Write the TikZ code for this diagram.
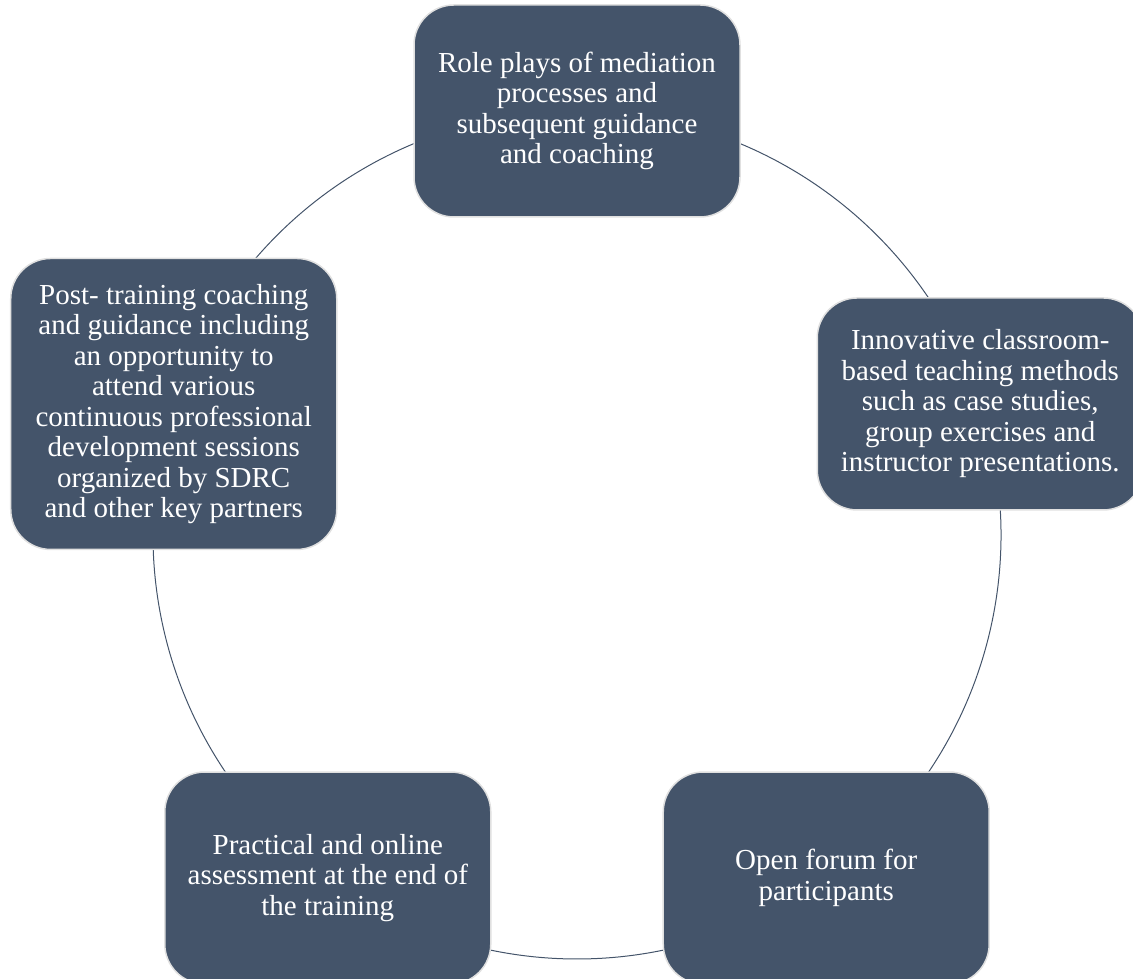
\documentclass[tikz,border=0pt]{standalone}
\usepackage{fontspec}
\setmainfont{Liberation Serif}
\usepackage{tikz}
\usetikzlibrary{
  backgrounds,
  calc,
  positioning
}
\definecolor{slate}{HTML}{44546A}
\tikzset{
  stage/.style={
    draw=black!12,
    line width=1.5pt,
    fill=slate,
    rounded corners=40pt,
    text=white,
    minimum width=326pt,
    minimum height=212pt,
    inner sep=0pt,
    align=center,
    font=\fontsize{29}{30.5}\selectfont
  },
  link/.style={draw=slate, line width=1pt}
}

\begin{document}
\begin{tikzpicture}[x=1pt,y=1pt]
				\useasboundingbox (0,0) rectangle (1133,979);
				\coordinate (c) at (577,444);
				\node[stage] (role) at ($(c)+(90:424pt)$)
				  {Role plays of mediation\\processes and\\subsequent guidance\\and coaching};
				\node[stage] (innov) at ($(c)+(18:424pt)$)
				  {Innovative classroom-\\based teaching methods\\such as case studies,\\group exercises and\\instructor presentations.};
				\node[stage] (forum) at ($(c)+(-54:424pt)$)
				  {Open forum for\\participants};
				\node[stage] (assess) at ($(c)+(-126:424pt)$)
				  {Practical and online\\assessment at the end of\\the training};
				\node[stage, minimum height=291pt] (post) at ($(c)+(162:424pt)$)
				  {Post- training coaching\\and guidance including\\an opportunity to\\attend various\\continuous professional\\development sessions\\organized by SDRC\\and other key partners};
				\begin{scope}[on background layer]
				\draw[link] (role.center) arc[start angle=90, end angle=18, radius=424pt];
				\draw[link] (innov.center) arc[start angle=18, end angle=-54, radius=424pt];
				\draw[link] (forum.center) arc[start angle=-54, end angle=-126, radius=424pt];
				\draw[link] (assess.center) arc[start angle=-126, end angle=-198, radius=424pt];
				\draw[link] (post.center) arc[start angle=162, end angle=90, radius=424pt];
				\end{scope}
			\end{tikzpicture}
\end{document}
